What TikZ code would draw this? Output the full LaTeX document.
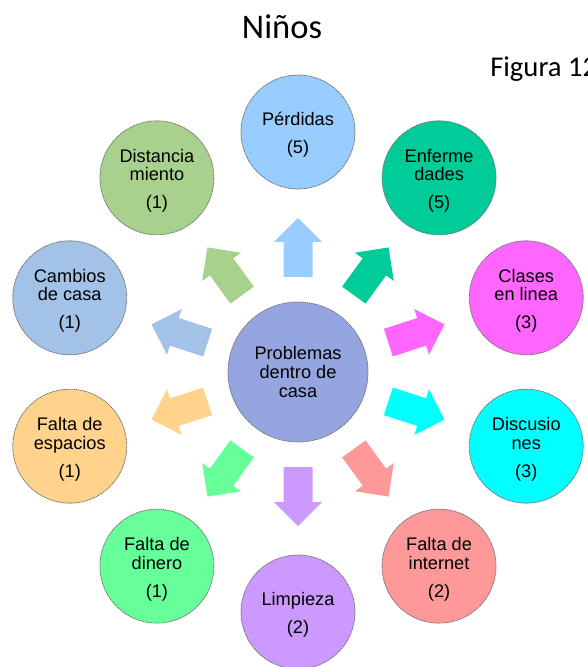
\documentclass[tikz,border=0pt]{standalone}
\usepackage{fontspec}
\setmainfont{Liberation Sans}
\newfontfamily\calibri{Carlito}
\definecolor{cPerd}{HTML}{99CCFF}
\definecolor{cEnf}{HTML}{00CC99}
\definecolor{cClas}{HTML}{FF66FF}
\definecolor{cDisc}{HTML}{00FFFF}
\definecolor{cInt}{HTML}{FF9999}
\definecolor{cLimp}{HTML}{CC99FF}
\definecolor{cDin}{HTML}{66FF99}
\definecolor{cEsp}{HTML}{FFD38C}
\definecolor{cCamb}{HTML}{A2C2E8}
\definecolor{cDist}{HTML}{A9D18E}
\definecolor{cCen}{HTML}{95A5E0}
\newcommand\mytopstrut{\rule{0pt}{14.5pt}}
\begin{document}
\begin{tikzpicture}[x=0.75pt,y=0.75pt,
  bub/.style={circle, minimum size=85.5pt, inner sep=0pt, draw=black!55,
    dash pattern=on 1pt off 0.5pt, line width=0.6pt, align=center,
    font=\fontsize{13.65}{13.9}\selectfont}
]
\useasboundingbox (-298,-295) rectangle (290,372);
\clip (-298,-295) rectangle (290,372);

% titles
\node[anchor=base, inner sep=0pt, font=\calibri\fontsize{25.9}{30}\selectfont] (title) at (-16,333) {Niños};
\node[anchor=base west, inner sep=0pt, font=\calibri\fontsize{21.5}{25}\selectfont] (fig) at (192,295) {Figura 12};

% block arrows
\foreach \a/\col in {90/cPerd, 54/cEnf, 18/cClas, -18/cDisc, -54/cInt, -90/cLimp, -126/cDin, -162/cEsp, 162/cCamb, 126/cDist}{
  \fill[\col, rotate=\a] (95,-14.5) -- (130,-14.5) -- (130,-24) -- (154,0) -- (130,24) -- (130,14.5) -- (95,14.5) -- cycle;
}

% center
\node[bub, minimum size=105pt, fill=cCen] (c) at (0,0) {Problemas\\dentro de\\casa};

% outer circles
\node[bub, fill=cPerd] (perd) at (90:240) {\mytopstrut Pérdidas\\[7pt](5)};
\node[bub, fill=cEnf] (enf) at (54:240) {\mytopstrut Enferme\\dades\\[7pt](5)};
\node[bub, fill=cClas] (clas) at (18:240) {\mytopstrut Clases\\en linea\\[7pt](3)};
\node[bub, fill=cDisc] (disc) at (-18:240) {\mytopstrut Discusio\\nes\\[7pt](3)};
\node[bub, fill=cInt] (int) at (-54:240) {\mytopstrut Falta de\\internet\\[7pt](2)};
\node[bub, fill=cLimp] (limp) at (-90:240) {\mytopstrut Limpieza\\[7pt](2)};
\node[bub, fill=cDin] (din) at (-126:240) {\mytopstrut Falta de\\dinero\\[7pt](1)};
\node[bub, fill=cEsp] (esp) at (-162:240) {\mytopstrut Falta de\\espacios\\[7pt](1)};
\node[bub, fill=cCamb] (camb) at (162:240) {\mytopstrut Cambios\\de casa\\[7pt](1)};
\node[bub, fill=cDist] (dist) at (126:240) {\mytopstrut Distancia\\miento\\[7pt](1)};
\end{tikzpicture}
\end{document}
